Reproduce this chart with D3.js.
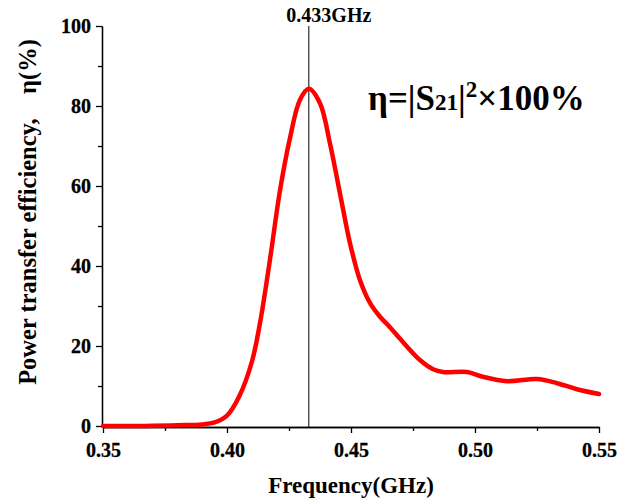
<!DOCTYPE html>
<html>
<head>
<meta charset="utf-8">
<script src="https://cdn.jsdelivr.net/npm/d3@7"></script>
<style>
  body { margin: 0; background: #fff; }
  text { font-family: "Liberation Serif", "Times New Roman", serif; font-weight: bold; white-space: pre; }
</style>
</head>
<body>
<svg id="container" width="632" height="500"></svg>
<script>
// frequency (GHz) and efficiency (%)
const freqs = [0.35, 0.36, 0.37, 0.38, 0.39, 0.395, 0.40, 0.405, 0.41, 0.4133, 0.4173, 0.4214, 0.4254, 0.4294,
  0.433, 0.4375, 0.4415, 0.4456, 0.4496, 0.4536, 0.4577, 0.4617, 0.4657, 0.4698, 0.4778, 0.4831, 0.4871, 0.4968,
  0.5032, 0.5129, 0.525, 0.5331, 0.5411, 0.55];
const eff = [0, 0, 0.05, 0.2, 0.4, 0.9, 2.6, 7.5, 16, 25.7, 41.5, 59, 72, 81.5,
  84.3, 80.7, 70.7, 58, 45.7, 36.5, 30.7, 27.3, 24.7, 21.8, 16.5, 14.2, 13.5, 13.5,
  12.3, 11.2, 11.75, 10.7, 9.2, 8];
const xTicks = [0.35, 0.40, 0.45, 0.50, 0.55];
const yTicks = [0, 20, 40, 60, 80, 100];
const markFreq = 0.433;

const svg = d3.select('#container');
const x = d3.scaleLinear().domain([0.35, 0.55]).range([103, 599]);
const y = d3.scaleLinear().domain([0, 100]).range([426, 26]);

// x axis
const xAxis = svg.append('g').attr('transform', 'translate(0,427)')
  .call(d3.axisBottom(x).tickValues(xTicks).tickFormat(d3.format('.2f')).tickSize(6).tickSizeOuter(0));
svg.append('g').attr('transform', 'translate(0,427)')
  .call(d3.axisBottom(x).tickValues(d3.range(0.375, 0.55, 0.05)).tickFormat('').tickSize(4).tickSizeOuter(0));

// y axis
const yAxis = svg.append('g').attr('transform', 'translate(102,0)')
  .call(d3.axisLeft(y).tickValues(yTicks).tickSize(6).tickSizeOuter(0));
svg.append('g').attr('transform', 'translate(102,0)')
  .call(d3.axisLeft(y).tickValues(d3.range(10, 100, 20)).tickFormat('').tickSize(4).tickSizeOuter(0));

svg.selectAll('.domain, .tick line').attr('stroke', '#000').attr('stroke-width', 1.3);
xAxis.selectAll('.tick text').attr('font-size', 20).attr('dy', '1.05em');
yAxis.selectAll('.tick text').attr('font-size', 20).attr('dx', '-0.1em');
svg.selectAll('.tick text').attr('fill', '#000').attr('stroke', '#000').attr('stroke-width', 0.3)
  .style('font-family', '"Liberation Serif", serif').style('font-weight', 'bold');

// marker line
svg.append('line')
  .attr('x1', x(markFreq)).attr('x2', x(markFreq))
  .attr('y1', y(100)).attr('y2', 427)
  .attr('stroke', 'black').attr('stroke-width', 1);
svg.append('text').attr('x', x(markFreq) + 20).attr('y', 22)
  .attr('text-anchor', 'middle').attr('font-size', 20).text(markFreq + 'GHz');

// curve
const line = d3.line()
  .x((d, i) => x(freqs[i]))
  .y(d => y(d))
  .curve(d3.curveCatmullRom.alpha(0.5));
svg.append('path')
  .datum(eff)
  .attr('d', line)
  .attr('fill', 'none')
  .attr('stroke', '#ff0000')
  .attr('stroke-width', 4.5)
  .attr('stroke-linecap', 'round');

// axis titles
svg.append('text').attr('x', 351).attr('y', 493)
  .attr('text-anchor', 'middle').attr('font-size', 23).text('Frequency(GHz)');
svg.append('text').attr('transform', 'translate(36,212) rotate(-90)')
  .attr('text-anchor', 'middle').attr('font-size', 24.5).text('Power transfer efficiency,    η(%)');

// formula
const f = svg.append('text').attr('x', 368).attr('y', 110).attr('font-size', 35);
f.append('tspan').text('η=|S');
f.append('tspan').attr('font-size', 23).text('21');
f.append('tspan').text('|');
f.append('tspan').attr('font-size', 23).attr('dy', -13).text('2');
f.append('tspan').attr('dy', 13).text('×100%');
</script>
</body>
</html>
